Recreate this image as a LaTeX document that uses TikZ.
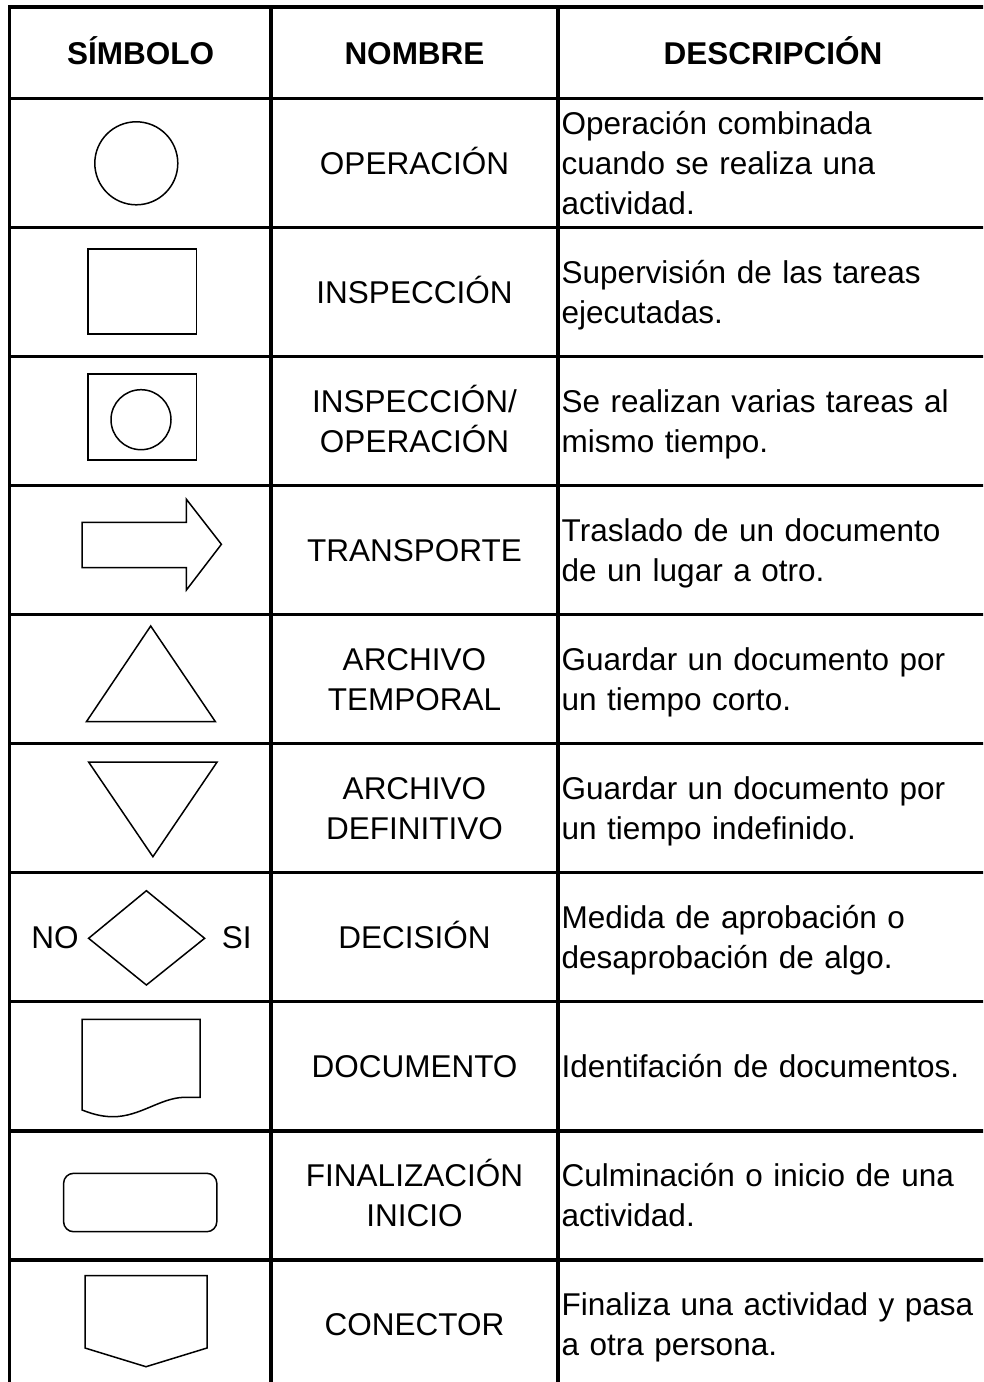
\documentclass[tikz,border=0pt]{standalone}
\usepackage{fontspec}
\setmainfont{Liberation Sans}
\newcommand\letra{\fontsize{31.5}{40}\selectfont}

\begin{document}
\begin{tikzpicture}[x=1pt,y=-1pt,
        rejilla/.style={line width=3.3pt},
        figura/.style={line width=1.5pt},
        cabecera/.style={font=\letra\bfseries, anchor=base, inner sep=0pt},
        nombre/.style={font=\letra, text width=300pt, align=center, anchor=base, inner sep=0pt},
        desc/.style={font=\letra, text width=450pt, align=left, anchor=base west, inner sep=0pt}]%% tabla de simbolos

    \useasboundingbox (0,0) rectangle (983,1382);
    \clip (0,0) rectangle (983,1382);

        %% rejilla
        \draw[rejilla] (9.5,7) rectangle (988,1400);
            \draw[rejilla] (271,7) to (271,1400);
            \draw[rejilla] (558,7) to (558,1400);
        \draw[rejilla] (9.5,98.5) to (988,98.5);
        \draw[rejilla] (9.5,227.8) to (988,227.8);
        \draw[rejilla] (9.5,356.6) to (988,356.6);
        \draw[rejilla] (9.5,485.6) to (988,485.6);
        \draw[rejilla] (9.5,614.7) to (988,614.7);
        \draw[rejilla] (9.5,743.7) to (988,743.7);
        \draw[rejilla] (9.5,872.8) to (988,872.8);
        \draw[rejilla] (9.5,1001.8) to (988,1001.8);
        \draw[rejilla] (9.5,1130.9) to (988,1130.9);
        \draw[rejilla] (9.5,1259.9) to (988,1259.9);

        %% cabecera
        \node[cabecera] (cabsim) at (140.5,64.5) {SÍMBOLO};
        \node[cabecera] (cabnom) at (414.5,64.5) {NOMBRE};
        \node[cabecera] (cabdes) at (773,64.5) {DESCRIPCIÓN};


        %% operacion
            \draw[figura] (136.3,163.3) circle[radius=41.5];
            \node[nombre] (nom1) at (414.5,174.3) {OPERACIÓN};
            \node[desc] (des1) at (561.5,134.3) {Operación combinada\\cuando se realiza una\\actividad.};

        %% inspeccion
            \draw[figura] (88,249) rectangle (196.4,334);
            \node[nombre] (nom2) at (414.5,303.35) {INSPECCIÓN};
            \node[desc] (des2) at (561.5,283.35) {Supervisión de las tareas\\ejecutadas.};

        %% inspeccion / operacion
            \draw[figura] (88,374) rectangle (196.4,460);
            \draw[figura] (141,419.7) circle[radius=30];
            \node[nombre] (nom3) at (414.5,412.4) {INSPECCIÓN/\\OPERACIÓN};
            \node[desc] (des3) at (561.5,412.4) {Se realizan varias tareas al\\mismo tiempo.};

        %% transporte
            \draw[figura] (82,522.3) -- (186.4,522.3) -- (186.4,499.3) -- (221.4,544.3)
                -- (186.4,590) -- (186.4,567.7) -- (82,567.7) -- cycle;
            \node[nombre] (nom4) at (414.5,561.45) {TRANSPORTE};
            \node[desc] (des4) at (561.5,541.45) {Traslado de un documento\\de un lugar a otro.};

        %% archivo temporal
            \draw[figura] (150.7,626) -- (215.4,721.7) -- (86.4,721.7) -- cycle;
            \node[nombre] (nom5) at (414.5,670.5) {ARCHIVO\\TEMPORAL};
            \node[desc] (des5) at (561.5,670.5) {Guardar un documento por\\un tiempo corto.};

        %% archivo definitivo
            \draw[figura] (88.6,762) -- (217.1,762) -- (152.9,856.7) -- cycle;
            \node[nombre] (nom6) at (414.5,799.55) {ARCHIVO\\DEFINITIVO};
            \node[desc] (des6) at (561.5,799.55) {Guardar un documento por\\un tiempo indefinido.};

        %% decision
            \draw[figura] (146.4,890.7) -- (204.6,938.3) -- (146.4,985) -- (88.6,938.3) -- cycle;
            \node[cabecera, font=\letra] (no) at (55,948.6) {NO};
            \node[cabecera, font=\letra] (si) at (236.7,948.6) {SI};
            \node[nombre] (nom7) at (414.5,948.6) {DECISIÓN};
            \node[desc] (des7) at (561.5,928.6) {Medida de aprobación o\\desaprobación de algo.};

        %% documento
            \draw[figura] (82.1,1110) -- (82.1,1019.3) -- (200,1019.3) -- (200,1097.3) -- (184,1097.3)
                .. controls (160,1098) and (140,1116.7) .. (113,1116.7)
                .. controls (100,1116.7) and (90,1113) .. (82.1,1110) -- cycle;
            \node[nombre] (nom8) at (414.5,1077.65) {DOCUMENTO};
            \node[desc] (des8) at (561.5,1077.65) {Identifación de documentos.};

        %% finalizacion inicio
            \draw[figura, rounded corners=10pt] (63.6,1173.3) rectangle (216.8,1231.7);
            \node[nombre] (nom9) at (414.5,1186.7) {FINALIZACIÓN\\INICIO};
            \node[desc] (des9) at (561.5,1186.7) {Culminación o inicio de una\\actividad.};

        %% conector
            \draw[figura] (85,1275.7) -- (207,1275.7) -- (207,1348) -- (146,1366.7) -- (85,1348) -- cycle;
            \node[nombre] (nom10) at (414.5,1335.75) {CONECTOR};
            \node[desc] (des10) at (561.5,1315.75) {Finaliza una actividad y pasa\\a otra persona.};

\end{tikzpicture}
\end{document}
